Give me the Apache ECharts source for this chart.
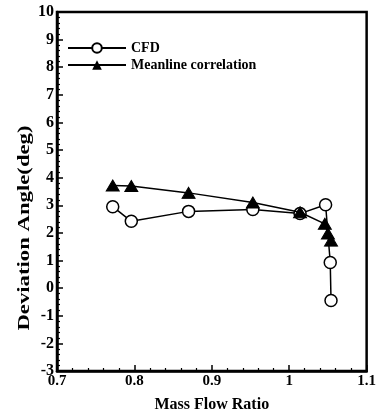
<!DOCTYPE html>
<html><head><meta charset="utf-8">
<script src="https://cdn.jsdelivr.net/npm/echarts@6/dist/echarts.min.js"></script>
<style>html,body{margin:0;padding:0;background:#fff}#c{width:379px;height:418px}</style>
</head><body><div id="c"></div>
<script>
const cfdX = [0.772, 0.796, 0.870, 0.953, 1.014, 1.047, 1.053, 1.054];
const cfdY = [2.95, 2.42, 2.78, 2.85, 2.70, 3.02, 0.93, -0.45];
const mlX = [0.772, 0.796, 0.870, 0.953, 1.014, 1.046, 1.050, 1.054];
const mlY = [3.72, 3.70, 3.45, 3.10, 2.75, 2.33, 1.98, 1.72];
const xTicks = ['0.7', '0.8', '0.9', '1', '1.1'];
const FONT = '"Liberation Serif", "DejaVu Serif", serif';

const chart = echarts.init(document.getElementById('c'), null, {renderer: 'canvas'});
const zip = (a, b) => a.map((v, i) => [v, b[i]]);
chart.setOption({
  animation: false,
  backgroundColor: '#fff',
  grid: {left: 57, right: 10, top: 12, bottom: 44, show: true, borderColor: '#000', borderWidth: 2.5},
  legend: {
    orient: 'vertical', left: 62, top: 36, itemGap: 3, itemWidth: 58, itemHeight: 12,
    textStyle: {fontFamily: FONT, fontSize: 14, fontWeight: 'bold', color: '#000', padding: [0, 0, 0, 0]},
    data: ['CFD', 'Meanline correlation']
  },
  xAxis: {
    type: 'value', min: 0.7, max: 1.1, interval: 0.1,
    axisLine: {show: true, onZero: false, lineStyle: {color: '#000', width: 2.5}},
    axisTick: {show: true, inside: true, length: 6, lineStyle: {color: '#000', width: 1.5}},
    minorTick: {show: true, splitNumber: 5, length: 3, lineStyle: {color: '#000', width: 1.2}},
    splitLine: {show: false},
    axisLabel: {color: '#000', fontFamily: FONT, fontSize: 15, fontWeight: 'bold', margin: 3,
      formatter: (v) => xTicks[Math.round((v - 0.7) / 0.1)]},
    name: 'Mass Flow Ratio', nameLocation: 'middle', nameGap: 26,
    nameTextStyle: {color: '#000', fontFamily: FONT, fontSize: 16, fontWeight: 'bold'}
  },
  yAxis: {
    type: 'value', min: -3, max: 10, interval: 1,
    axisLine: {show: true, onZero: false, lineStyle: {color: '#000', width: 2.5}},
    axisTick: {show: true, inside: true, length: 6, lineStyle: {color: '#000', width: 1.5}},
    minorTick: {show: true, splitNumber: 5, length: 3, lineStyle: {color: '#000', width: 1.2}},
    splitLine: {show: false},
    axisLabel: {color: '#000', fontFamily: FONT, fontSize: 16, fontWeight: 'bold', margin: 3}
  },
  graphic: [{
    type: 'text', x: 25, y: 228, rotation: Math.PI / 2, scaleX: 1.42, scaleY: 1,
    style: {text: 'Deviation Angle(deg)', fill: '#000', font: 'bold 16px ' + FONT,
      textAlign: 'center', textVerticalAlign: 'middle'}
  }],
  series: [
    {name: 'CFD', type: 'line', data: zip(cfdX, cfdY), symbol: 'circle', symbolSize: 12,
      lineStyle: {color: '#000', width: 1.5}, itemStyle: {color: '#fff', borderColor: '#000', borderWidth: 1.5}, z: 3},
    {name: 'Meanline correlation', type: 'line', data: zip(mlX, mlY), symbol: 'triangle', symbolSize: [13, 11],
      lineStyle: {color: '#000', width: 1.5}, itemStyle: {color: '#000', borderColor: '#000'}, z: 4}
  ]
});
</script></body></html>
